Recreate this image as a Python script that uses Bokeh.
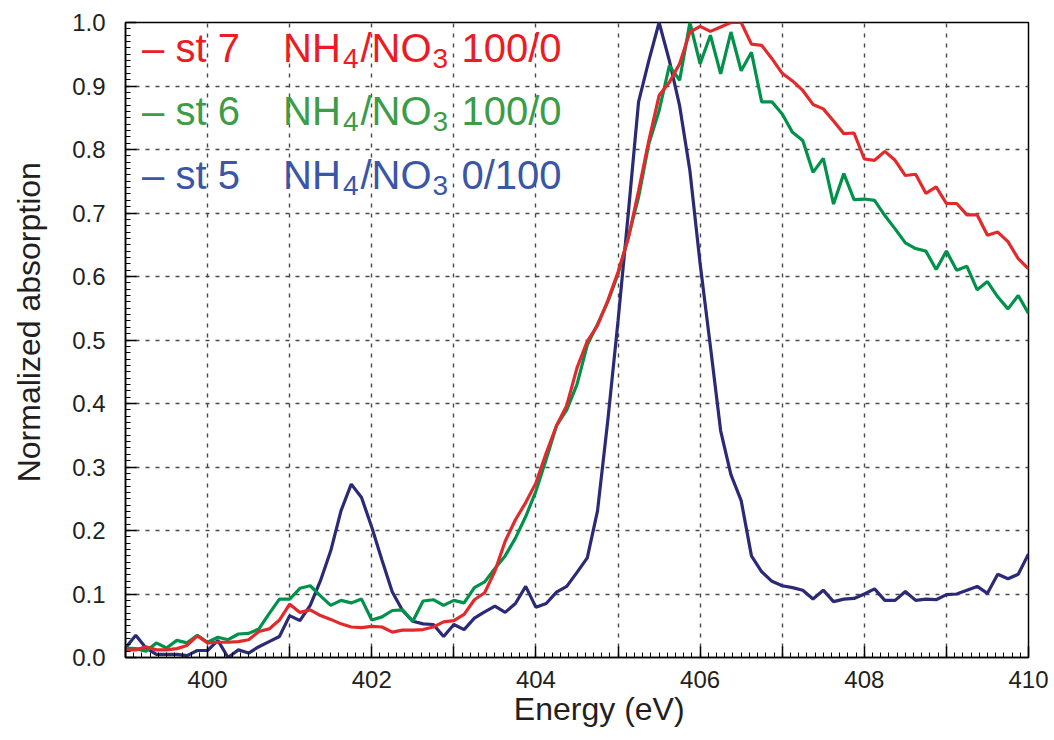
import math
from bokeh.plotting import figure
from bokeh.models import FixedTicker, Label, Range1d, CustomJSTickFormatter, PrintfTickFormatter
from bokeh.embed import file_html
from bokeh.resources import INLINE

# ---------------- data ----------------
energy = [
    399.0, 399.125, 399.25, 399.375, 399.5, 399.625, 399.75, 399.875,
    400.0, 400.125, 400.25, 400.375, 400.5, 400.625, 400.75, 400.875,
    401.0, 401.125, 401.25, 401.375, 401.5, 401.625, 401.75, 401.875,
    402.0, 402.125, 402.25, 402.375, 402.5, 402.625, 402.75, 402.875,
    403.0, 403.125, 403.25, 403.375, 403.5, 403.625, 403.75, 403.875,
    404.0, 404.125, 404.25, 404.375, 404.5, 404.625, 404.75, 404.875,
    405.0, 405.125, 405.25, 405.375, 405.5, 405.625, 405.75, 405.875,
    406.0, 406.125, 406.25, 406.375, 406.5, 406.625, 406.75, 406.875,
    407.0, 407.125, 407.25, 407.375, 407.5, 407.625, 407.75, 407.875,
    408.0, 408.125, 408.25, 408.375, 408.5, 408.625, 408.75, 408.875,
    409.0, 409.125, 409.25, 409.375, 409.5, 409.625, 409.75, 409.875,
    410.0,
]

st7_nh4 = [
    0.012, 0.012, 0.017, 0.012, 0.012, 0.014, 0.019, 0.034,
    0.023, 0.024, 0.024, 0.025, 0.028, 0.041, 0.045, 0.059,
    0.084, 0.071, 0.075, 0.066, 0.060, 0.053, 0.048, 0.047,
    0.049, 0.048, 0.040, 0.043, 0.043, 0.044, 0.048, 0.056,
    0.058, 0.068, 0.091, 0.102, 0.136, 0.183, 0.217, 0.244,
    0.275, 0.322, 0.365, 0.397, 0.456, 0.498, 0.523, 0.562,
    0.607, 0.660, 0.735, 0.814, 0.885, 0.906, 0.935, 0.985,
    0.994, 0.986, 0.993, 1.000, 1.000, 0.966, 0.964, 0.943,
    0.920, 0.908, 0.893, 0.871, 0.864, 0.845, 0.825, 0.826,
    0.785, 0.783, 0.797, 0.783, 0.759, 0.761, 0.731, 0.741,
    0.715, 0.715, 0.697, 0.697, 0.665, 0.670, 0.655, 0.628,
    0.612,
]

st6_nh4 = [
    0.015, 0.014, 0.010, 0.023, 0.015, 0.027, 0.023, 0.035,
    0.024, 0.032, 0.028, 0.037, 0.038, 0.045, 0.069, 0.092,
    0.092, 0.109, 0.113, 0.097, 0.082, 0.090, 0.086, 0.092,
    0.059, 0.064, 0.074, 0.075, 0.057, 0.089, 0.091, 0.082,
    0.090, 0.086, 0.110, 0.119, 0.140, 0.160, 0.188, 0.222,
    0.262, 0.312, 0.365, 0.390, 0.430, 0.492, 0.525, 0.560,
    0.604, 0.662, 0.725, 0.809, 0.861, 0.932, 0.909, 1.000,
    0.935, 0.980, 0.919, 0.985, 0.924, 0.953, 0.875, 0.875,
    0.856, 0.827, 0.814, 0.764, 0.786, 0.714, 0.762, 0.721,
    0.722, 0.720, 0.696, 0.675, 0.653, 0.644, 0.640, 0.611,
    0.640, 0.610, 0.616, 0.579, 0.592, 0.568, 0.549, 0.570,
    0.542,
]

st5_no3 = [
    0.015, 0.035, 0.015, 0.005, 0.005, 0.005, 0.003, 0.011,
    0.011, 0.027, 0.000, 0.012, 0.007, 0.017, 0.025, 0.033,
    0.066, 0.058, 0.082, 0.121, 0.168, 0.231, 0.273, 0.252,
    0.205, 0.153, 0.103, 0.074, 0.057, 0.053, 0.052, 0.033,
    0.052, 0.044, 0.062, 0.072, 0.081, 0.071, 0.085, 0.112,
    0.079, 0.085, 0.103, 0.112, 0.134, 0.157, 0.231, 0.373,
    0.530, 0.700, 0.875, 0.940, 1.000, 0.940, 0.869, 0.767,
    0.620, 0.490, 0.357, 0.288, 0.247, 0.160, 0.135, 0.120,
    0.113, 0.110, 0.106, 0.092, 0.106, 0.088, 0.092, 0.093,
    0.100, 0.108, 0.090, 0.090, 0.104, 0.090, 0.092, 0.091,
    0.099, 0.100, 0.106, 0.112, 0.101, 0.131, 0.124, 0.131,
    0.163,
]

x_major_ticks = [399, 400, 401, 402, 403, 404, 405, 406, 407, 408, 409, 410]
x_grid_ticks = [400, 401, 402, 403, 404, 405, 406, 407, 408, 409]
y_major_ticks = [0.0, 0.1, 0.2, 0.3, 0.4, 0.5, 0.6, 0.7, 0.8, 0.9, 1.0]
y_grid_ticks = [0.1, 0.2, 0.3, 0.4, 0.5, 0.6, 0.7, 0.8, 0.9]

legend_rows = [
    ("– st 7", "100/0"),
    ("– st 6", "100/0"),
    ("– st 5", "0/100"),
]

# ---------------- style ----------------
FONT = "Liberation Sans"
LINE_RED = "#e12a2c"
LINE_GREEN = "#00924a"
LINE_NAVY = "#2b2a77"
TEXT_COLORS = ["#ec1c24", "#3c9c48", "#3a56a6"]
INK = "#231f20"
NBSP = "\u00a0"

p = figure(width=1054, height=740, output_backend="svg", toolbar_location=None,
           x_range=Range1d(399, 410), y_range=Range1d(0, 1.0),
           min_border_left=125, min_border_right=26, min_border_top=22,
           min_border_bottom=83)
p.background_fill_color = "white"
p.border_fill_color = "white"
p.outline_line_color = "black"
p.outline_line_width = 1.5

# axes
xax = p.xaxis[0]
xax.ticker = FixedTicker(ticks=x_major_ticks,
                         minor_ticks=[round(399 + 0.1 * k, 1) for k in range(111)])
xax.formatter = CustomJSTickFormatter(code="return (Math.round(tick) % 2 == 0) ? tick.toFixed(0) : '';")
yax = p.yaxis[0]
yax.ticker = FixedTicker(ticks=y_major_ticks,
                         minor_ticks=[round(0.01 * k, 2) for k in range(101)])
yax.formatter = PrintfTickFormatter(format="%.1f")

for ax in (xax, yax):
    ax.axis_line_color = "black"
    ax.axis_line_width = 1.5
    ax.major_tick_in = 11
    ax.major_tick_out = 0
    ax.minor_tick_in = 5
    ax.minor_tick_out = 0
    ax.major_tick_line_color = "black"
    ax.major_tick_line_width = 1.5
    ax.minor_tick_line_color = "black"
    ax.minor_tick_line_width = 1
    ax.major_label_text_font = FONT
    ax.major_label_text_font_size = "24px"
    ax.major_label_text_color = INK
    ax.axis_label_text_font = FONT
    ax.axis_label_text_font_size = "32px"
    ax.axis_label_text_font_style = "normal"
    ax.axis_label_text_color = INK
xax.major_label_standoff = 13
yax.major_label_standoff = 20

# axis titles (leading no-break spaces nudge them off-centre like the original)
xax.axis_label = NBSP * 5 + "Energy (eV)"
xax.axis_label_standoff = 0
yax.axis_label = NBSP * 4 + "Normalized absorption"
yax.axis_label_standoff = 22

# grid
p.xgrid.ticker = FixedTicker(ticks=x_grid_ticks)
p.ygrid.ticker = FixedTicker(ticks=y_grid_ticks)
for g in (p.xgrid[0], p.ygrid[0]):
    g.grid_line_color = "#4a4a4a"
    g.grid_line_width = 1.4
    g.grid_line_dash = "4 6"

# curves
p.line(energy, st5_no3, line_color=LINE_NAVY, line_width=3.2)
p.line(energy, st6_nh4, line_color=LINE_GREEN, line_width=3.2)
p.line(energy, st7_nh4, line_color=LINE_RED, line_width=3.2)

# legend as text (screen units from the frame's lower-left corner)
base_ys = [610, 546.5, 483]
for (lead, ratio), col, by in zip(legend_rows, TEXT_COLORS, base_ys):
    pieces = [
        (lead, 16.6, by, "40px"),
        ("NH", 157.6, by, "40px"),
        ("4", 217.5, by - 10.5, "28px"),
        ("/NO", 235, by, "40px"),
        ("3", 307, by - 10.5, "28px"),
        (ratio, 336, by, "40px"),
    ]
    for txt, sx, sy, fs in pieces:
        p.add_layout(Label(x=sx, y=sy, x_units="screen", y_units="screen",
                           text=txt, text_align="left", text_baseline="alphabetic",
                           text_font=FONT, text_font_size=fs, text_color=col))

open("out.html", "w").write(file_html(p, INLINE))
